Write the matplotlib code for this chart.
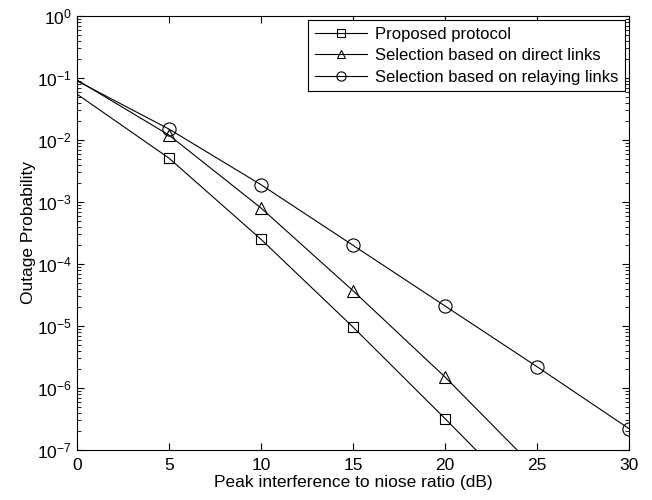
""" Outage probability vs peak interference to noise ratio """
import numpy as np
import matplotlib.pyplot as plt
from matplotlib.ticker import LogLocator, NullFormatter

plt.rcParams['font.family'] = ['Liberation Sans', 'DejaVu Sans']

# Data
snr_db = [0, 5, 10, 15, 20, 25, 30]
proposed = [0.055, 5.1e-3, 2.5e-4, 9.6e-6, 3.2e-7, 1.0e-8, 3.0e-10]
direct = [0.093, 0.012, 8.0e-4, 3.7e-5, 1.5e-6, 4.7e-8, 1.5e-9]
relaying = [0.09, 0.015, 1.9e-3, 2.0e-4, 2.1e-5, 2.2e-6, 2.2e-7]

labels = ['Proposed protocol',
          'Selection based on direct links',
          'Selection based on relaying links']

fs = 12.5

fig = plt.figure(figsize=(6.52, 5.0), dpi=100)
ax = fig.add_axes([0.118, 0.1, 0.847, 0.868])

# markers only at 5 dB steps starting from 5
style = dict(color='black', linewidth=0.8, markerfacecolor='none',
             markeredgewidth=0.8, markevery=range(1, 7))
ax.semilogy(snr_db, proposed, marker='s', markersize=7.5, label=labels[0], **style)
ax.semilogy(snr_db, direct, marker='^', markersize=9, label=labels[1], **style)
ax.semilogy(snr_db, relaying, marker='o', markersize=9.5, label=labels[2], **style)

ax.set_xlim(0, 30)
ax.set_ylim(1e-7, 1e0)
ax.set_xticks(np.arange(0, 31, 5))
ax.yaxis.set_major_locator(LogLocator(base=10, numticks=10))
ax.yaxis.set_minor_locator(LogLocator(base=10, subs=np.arange(2, 10), numticks=20))
ax.yaxis.set_minor_formatter(NullFormatter())

ax.tick_params(which='both', direction='in', top=True, right=True, labelsize=fs)
ax.tick_params(which='major', length=5)
ax.tick_params(which='minor', length=3)
ax.tick_params(axis='x', pad=6)

ax.set_xlabel('Peak interference to niose ratio (dB)', fontsize=fs, labelpad=1)
ax.set_ylabel('Outage Probability', fontsize=fs)
ax.yaxis.set_label_coords(-0.074, 0.5)

leg = ax.legend(loc='upper right', fontsize=12, fancybox=False, framealpha=1,
                edgecolor='black', borderaxespad=0.25, handlelength=3.1,
                labelspacing=0.38, borderpad=0.4, handletextpad=0.5,
                markerscale=0.7)
leg.get_frame().set_linewidth(0.8)

fig.savefig('out.png', dpi=100)
